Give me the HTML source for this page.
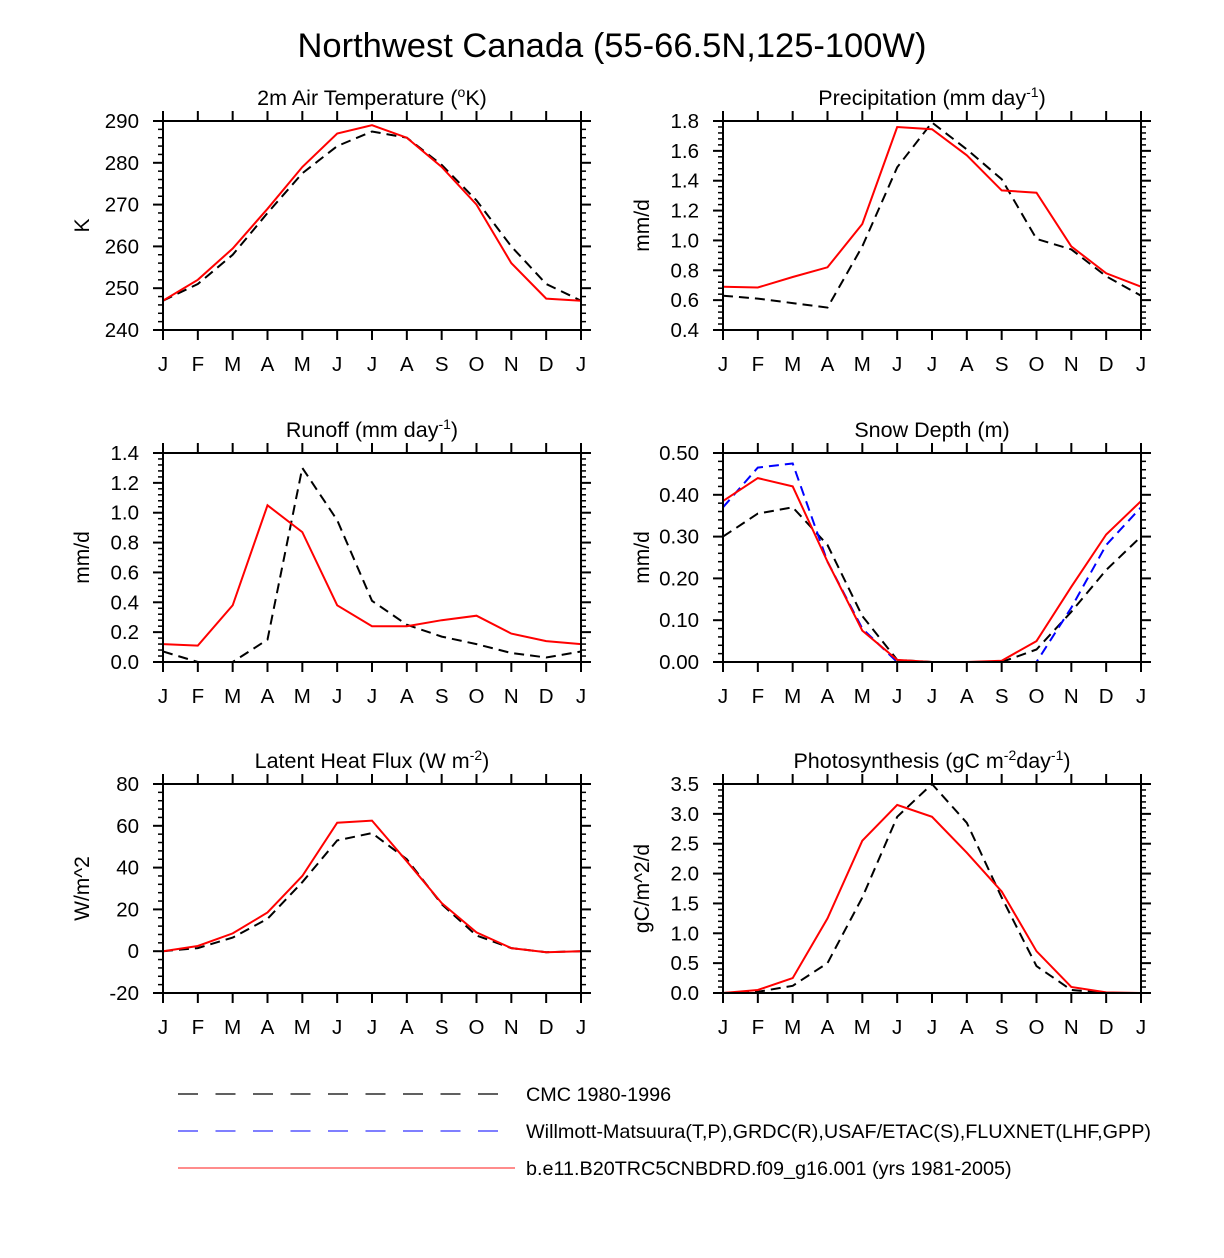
<!DOCTYPE html>
<html><head><meta charset="utf-8"><style>
body{margin:0;background:#fff}
svg{display:block;font-family:"Liberation Sans",sans-serif}
</style></head><body>
<svg id="chart" width="1224" height="1258" xmlns="http://www.w3.org/2000/svg">
<text x="612" y="57" font-size="34.5" text-anchor="middle">Northwest Canada (55-66.5N,125-100W)</text>
<g>
<line x1="178" y1="1094" x2="515" y2="1094" stroke="#000" stroke-width="1.2" stroke-dasharray="20,17.5"/>
<text x="526" y="1101" font-size="19.8">CMC 1980-1996</text>
<line x1="178" y1="1131" x2="515" y2="1131" stroke="#33f" stroke-width="1.2" stroke-dasharray="20,17.5"/>
<text x="526" y="1138" font-size="19.8">Willmott-Matsuura(T,P),GRDC(R),USAF/ETAC(S),FLUXNET(LHF,GPP)</text>
<line x1="178" y1="1168" x2="515" y2="1168" stroke="#f66" stroke-width="1.5"/>
<text x="526" y="1175" font-size="19.8">b.e11.B20TRC5CNBDRD.f09_g16.001 (yrs 1981-2005)</text>
</g>
</svg>
<script>
const months=["J","F","M","A","M","J","J","A","S","O","N","D","J"];
const tempModel=[247,252,259.5,269,279,287,289,286,279,270,256,247.5,247];
const tempCMC=[247,251,258,268,277.5,284,287.5,286,279.5,271,260,251,247];
const precModel=[.69,.685,.755,.82,1.11,1.76,1.745,1.57,1.335,1.32,.96,.78,.69];
const precCMC=[.63,.61,.58,.55,.96,1.49,1.79,1.61,1.41,1.01,.94,.76,.63];
const runModel=[.12,.11,.38,1.05,.87,.38,.24,.24,.28,.31,.19,.14,.12];
const runCMC=[.07,0,0,.15,1.3,.95,.41,.25,.17,.12,.06,.03,.07];
const snowModel=[.385,.44,.42,.24,.075,.005,0,0,.003,.05,.18,.305,.385];
const snowObs=[.37,.465,.475,.24,.08,0,0,0,0,0,.13,.28,.37];
const snowCMC=[.30,.355,.37,.28,.11,.005,0,0,0,.03,.12,.22,.30];
const lhfModel=[0,2.5,8.5,18.5,36,61.5,62.5,43,23,9,1.5,-0.5,0];
const lhfCMC=[0,1.5,6.5,15.5,33,53,56.5,44,22.5,7.5,1.5,-0.5,0];
const gppModel=[0,.05,.25,1.25,2.55,3.15,2.95,2.35,1.7,.7,.1,.01,0];
const gppCMC=[0,.02,.12,.5,1.6,2.95,3.5,2.85,1.6,.45,.05,0,0];
const tempTicks=["240","250","260","270","280","290"];
const precTicks=["0.4","0.6","0.8","1.0","1.2","1.4","1.6","1.8"];
const runTicks=["0.0","0.2","0.4","0.6","0.8","1.0","1.2","1.4"];
const snowTicks=["0.00","0.10","0.20","0.30","0.40","0.50"];
const lhfTicks=["-20","0","20","40","60","80"];
const gppTicks=["0.0","0.5","1.0","1.5","2.0","2.5","3.0","3.5"];

const NS="http://www.w3.org/2000/svg";
const svg=document.getElementById('chart');
function mk(tag,attrs,parent){const e=document.createElementNS(NS,tag);for(const k in attrs)e.setAttribute(k,attrs[k]);(parent||svg).appendChild(e);return e;}

const panels=[
 {name:"temperature",x:163,y:121,title:'2m Air Temperature (<tspan font-size="14" dy="-8">o</tspan><tspan dy="8">K)</tspan>',ylab:"K",ticks:tempTicks,series:[[tempCMC,"#000",true],[tempModel,"#f00",false]]},
 {name:"precipitation",x:723,y:121,title:'Precipitation (mm day<tspan font-size="14" dy="-8">-1</tspan><tspan dy="8">)</tspan>',ylab:"mm/d",ticks:precTicks,series:[[precCMC,"#000",true],[precModel,"#f00",false]]},
 {name:"runoff",x:163,y:453,title:'Runoff (mm day<tspan font-size="14" dy="-8">-1</tspan><tspan dy="8">)</tspan>',ylab:"mm/d",ticks:runTicks,series:[[runCMC,"#000",true],[runModel,"#f00",false]]},
 {name:"snow-depth",x:723,y:453,title:'Snow Depth (m)',ylab:"mm/d",ticks:snowTicks,series:[[snowCMC,"#000",true],[snowObs,"#00f",true],[snowModel,"#f00",false]]},
 {name:"latent-heat",x:163,y:784,title:'Latent Heat Flux (W m<tspan font-size="14" dy="-8">-2</tspan><tspan dy="8">)</tspan>',ylab:"W/m^2",ticks:lhfTicks,series:[[lhfCMC,"#000",true],[lhfModel,"#f00",false]]},
 {name:"photosynthesis",x:723,y:784,title:'Photosynthesis (gC m<tspan font-size="14" dy="-8">-2</tspan><tspan dy="8">day</tspan><tspan font-size="14" dy="-8">-1</tspan><tspan dy="8">)</tspan>',ylab:"gC/m^2/d",ticks:gppTicks,series:[[gppCMC,"#000",true],[gppModel,"#f00",false]]}
];
const W=418,H=209;
panels.forEach(p=>{
 const g=mk('g',{});
 
 
 const vals=p.ticks.map(Number);const ymin=vals[0],ymax=vals[vals.length-1];
 const xs=i=>p.x+i*W/12;
 const ys=v=>p.y+H-(v-ymin)/(ymax-ymin)*H;
 const t=mk('text',{x:p.x+W/2,y:p.y-16,'font-size':21.5,'text-anchor':'middle'},g);t.innerHTML=p.title;
 
 const yl=mk('text',{transform:`translate(${p.x-74},${p.y+H/2}) rotate(-90)`,'font-size':21,'text-anchor':'middle'},g);yl.textContent=p.ylab;
 
 const step=vals[1]-vals[0];
 for(let k=0;k<vals.length;k++){
  const y=ys(vals[k]);
  mk('line',{x1:p.x-10,y1:y,x2:p.x,y2:y,stroke:'#000','stroke-width':2},g);
  mk('line',{x1:p.x+W,y1:y,x2:p.x+W+10,y2:y,stroke:'#000','stroke-width':2},g);
  const tl=mk('text',{x:p.x-24,y:y+7,'font-size':20.5,'text-anchor':'end'},g);tl.textContent=p.ticks[k];
  
  if(k<vals.length-1)for(let m=1;m<5;m++){const ym=ys(vals[k]+step*m/5);
   mk('line',{x1:p.x-5,y1:ym,x2:p.x,y2:ym,stroke:'#000','stroke-width':1.5},g);
   mk('line',{x1:p.x+W,y1:ym,x2:p.x+W+5,y2:ym,stroke:'#000','stroke-width':1.5},g);}
 }
 months.forEach((mn,i)=>{const x=xs(i);
  mk('line',{x1:x,y1:p.y+H,x2:x,y2:p.y+H+10,stroke:'#000','stroke-width':2},g);
  mk('line',{x1:x,y1:p.y-10,x2:x,y2:p.y,stroke:'#000','stroke-width':2},g);
  const tl=mk('text',{x:x,y:p.y+H+41,'font-size':20.5,'text-anchor':'middle'},g);tl.textContent=mn;
  
 });
 const cp=mk('clipPath',{id:'c-'+p.name},g);mk('rect',{x:p.x,y:p.y-3,width:W,height:H+6},cp);
 p.series.forEach(([arr,col,dash],si)=>{
  const pts=arr.map((v,i)=>xs(i).toFixed(1)+','+ys(v).toFixed(1)).join(' ');
  const a={points:pts,fill:'none',stroke:col,'stroke-width':2,'clip-path':`url(#c-${p.name})`};
  if(dash)a['stroke-dasharray']='10,6';
  const pl=mk('polyline',a,g);
  
  
 });
 const fr=mk('rect',{x:p.x,y:p.y,width:W,height:H,fill:'none',stroke:'#000','stroke-width':2},g);
 
});
</script>
</body></html>
